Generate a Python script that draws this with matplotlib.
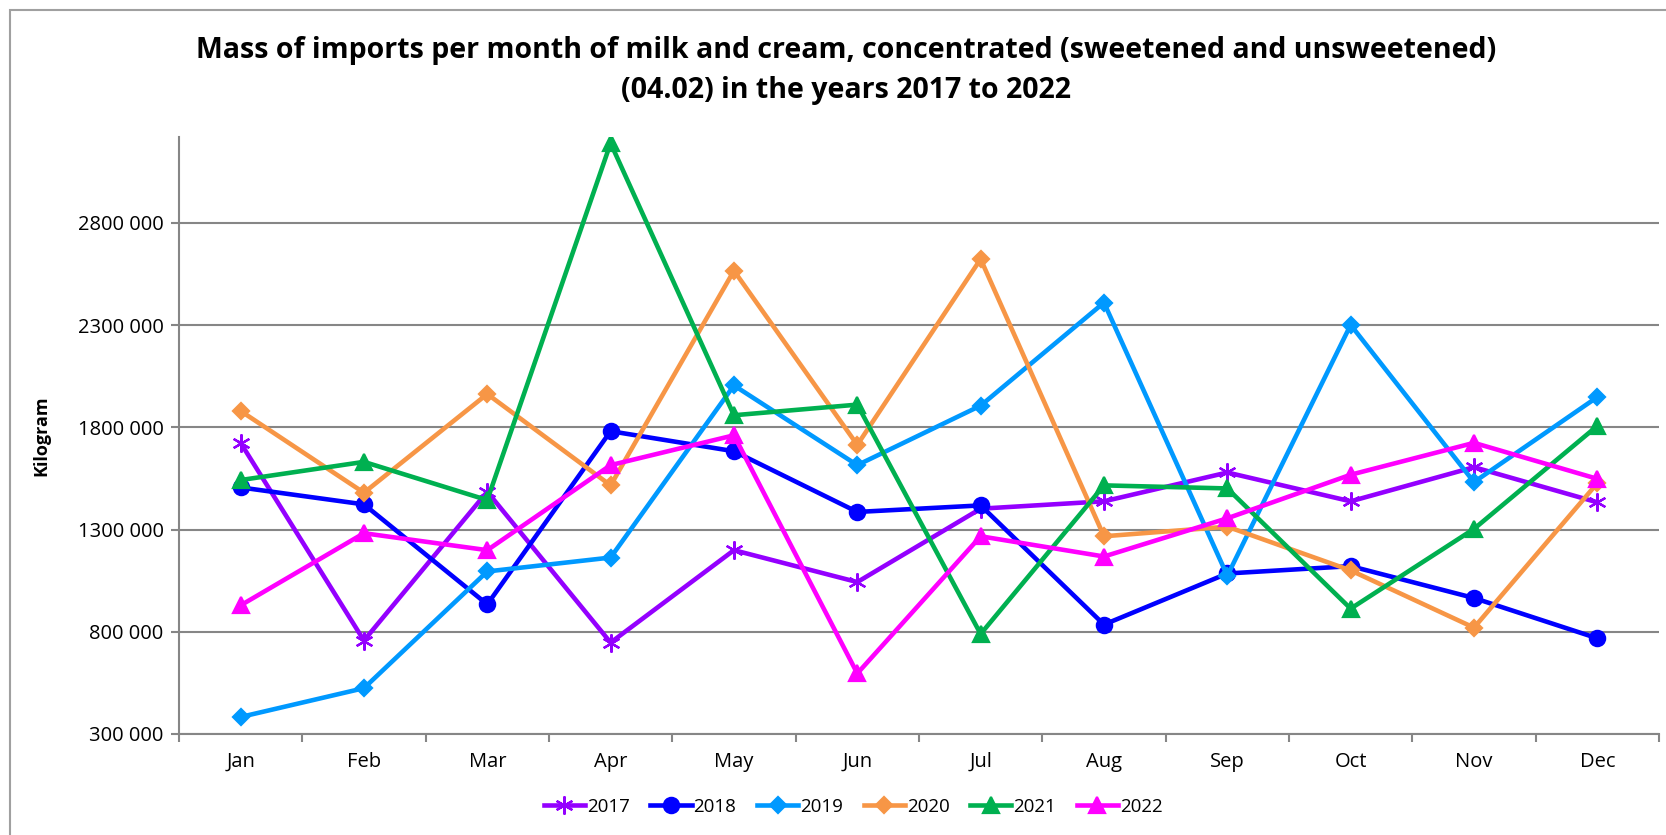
import matplotlib
matplotlib.use("Agg")
import matplotlib.pyplot as plt
from matplotlib.patches import Rectangle

months = ["Jan", "Feb", "Mar", "Apr", "May", "Jun",
          "Jul", "Aug", "Sep", "Oct", "Nov", "Dec"]

y2017 = [1724000, 757000, 1485000, 747000, 1199000, 1043000,
         1402000, 1438000, 1579000, 1438000, 1605000, 1433000]
y2018 = [1506000, 1423000, 934000, 1781000, 1683000, 1386000,
         1418000, 835000, 1085000, 1121000, 965000, 768000]
y2019 = [383000, 524000, 1095000, 1163000, 2005000, 1615000,
         1906000, 2410000, 1074000, 2301000, 1532000, 1948000]
y2020 = [1880000, 1480000, 1963000, 1516000, 2566000, 1714000,
         2623000, 1267000, 1314000, 1100000, 820000, 1527000]
y2021 = [1542000, 1631000, 1444000, 3190000, 1859000, 1911000,
         789000, 1516000, 1501000, 913000, 1303000, 1807000]
y2022 = [929000, 1282000, 1199000, 1615000, 1761000, 596000,
         1267000, 1168000, 1355000, 1568000, 1724000, 1548000]

years = ["2017", "2018", "2019", "2020", "2021", "2022"]
yticks = [300000, 800000, 1300000, 1800000, 2300000, 2800000]
ytick_labels = ["300 000", "800 000", "1300 000", "1800 000", "2300 000", "2800 000"]

plt.rcParams['font.family'] = ['Open Sans', 'DejaVu Sans']

fig = plt.figure(figsize=(16.66, 8.35), dpi=100)
ax = fig.add_axes([0.1074, 0.121, 0.8884, 0.7149])

# chart-area border (cropped on the right and bottom like the source)
fig.patches.append(Rectangle((10 / 1666, -0.05), 1.2, 1 - 10 / 835 + 0.05,
                             transform=fig.transFigure, fill=False,
                             edgecolor="#a0a0a0", lw=1.5))

x = list(range(len(months)))
series = [
    (y2017, "#9400ff", (6, 2, 0), 13),
    (y2018, "#0000ff", "o", 11),
    (y2019, "#0099ff", "D", 8),
    (y2020, "#f79646", "D", 8),
    (y2021, "#00b050", "^", 11),
    (y2022, "#ff00ff", "^", 11),
]
for (vals, col, mk, ms), lab in zip(series, years):
    ax.plot(x, vals, color=col, lw=3.3, marker=mk, markersize=ms,
            markeredgecolor=col, markerfacecolor=col, markeredgewidth=1.6,
            label=lab, zorder=3)

ax.set_xlim(-0.5, 11.5)
ax.set_ylim(300000, 3220000)
ax.set_yticks(yticks)
ax.set_yticklabels(ytick_labels, fontsize=14.5)
ax.set_xticks([i - 0.5 for i in range(13)])
ax.set_xticklabels([])
ax.set_xticks(x, minor=True)
ax.set_xticklabels(months, minor=True, fontsize=14.5)
ax.tick_params(axis="x", which="minor", length=0, pad=13)
ax.tick_params(axis="x", which="major", length=6, color="#868686", width=1.5)
ax.tick_params(axis="y", length=6, color="#868686", width=1.5, pad=5)
ax.grid(True, axis="y", color="#868686", lw=1.5)
ax.set_axisbelow(True)
for s in ["top", "right"]:
    ax.spines[s].set_visible(False)
for s in ["left", "bottom"]:
    ax.spines[s].set_color("#868686")
    ax.spines[s].set_linewidth(1.5)

ax.set_ylabel("Kilogram", fontsize=13, fontweight="bold")
ax.yaxis.set_label_coords(-0.087, 0.5)

fig.text(0.508, 0.915,
         "Mass of imports per month of milk and cream, concentrated (sweetened and unsweetened)\n(04.02) in the years 2017 to 2022",
         ha="center", va="center", fontsize=20.5, fontweight="bold", linespacing=1.5)

fig.legend(loc="center", bbox_to_anchor=(0.512, 0.034), ncol=6, frameon=False,
           fontsize=13.5, handlelength=2.2, columnspacing=1.1, handletextpad=0.1)

fig.savefig("out.png", dpi=100)
